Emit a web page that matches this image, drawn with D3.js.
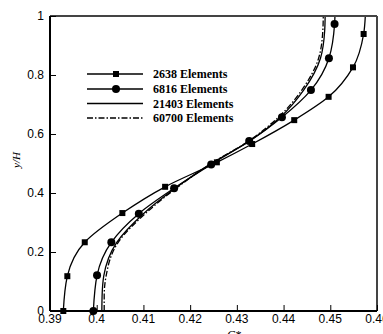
<!DOCTYPE html>
<html>
<head>
<meta charset="utf-8">
<script src="https://cdn.jsdelivr.net/npm/d3@7"></script>
<style>
  body { margin: 0; background: #fff; }
  svg { display: block; }
</style>
</head>
<body>
<div id="chart"></div>
<script>
// C* values against y/H
const yLevels2638 = [0, 0.118, 0.233, 0.332, 0.421, 0.504, 0.566, 0.647, 0.726, 0.826, 0.939, 1];
const cStar2638 = [0.39285, 0.39371, 0.39744, 0.40549, 0.41464, 0.42572, 0.43328, 0.44228, 0.44964, 0.45486, 0.45714, 0.4575];

const yLevels6816 = [0, 0.121, 0.233, 0.330, 0.416, 0.497, 0.576, 0.657, 0.749, 0.857, 0.973, 1];
const cStar6816 = [0.39928, 0.40007, 0.40313, 0.40901, 0.41657, 0.4245, 0.43264, 0.43965, 0.44586, 0.44971, 0.45092, 0.451];

const yLevelsFine = [0, 0.05, 0.118, 0.233, 0.33, 0.416, 0.5, 0.576, 0.657, 0.749, 0.857, 0.95, 1];
const cStar21403 = [0.4011, 0.40115, 0.4015, 0.4043, 0.4100, 0.4168, 0.4245, 0.4328, 0.4393, 0.4443, 0.4479, 0.4488, 0.4489];
const cStar60700 = [0.4016, 0.4016, 0.4020, 0.4046, 0.4104, 0.4170, 0.4245, 0.4325, 0.4389, 0.4439, 0.4475, 0.4484, 0.4485];

const xTicks = [0.39, 0.40, 0.41, 0.42, 0.43, 0.44, 0.45, 0.46];
const yTicks = [0, 0.2, 0.4, 0.6, 0.8, 1];

const series = [
    { name: "2638 Elements", ys: yLevels2638, xs: cStar2638, marker: "square", dash: null },
    { name: "6816 Elements", ys: yLevels6816, xs: cStar6816, marker: "circle", dash: null },
    { name: "21403 Elements", ys: yLevelsFine, xs: cStar21403, marker: null, dash: null },
    { name: "60700 Elements", ys: yLevelsFine, xs: cStar60700, marker: null, dash: "6,2,1.5,2" }
];

const serif = "'Liberation Serif', 'DejaVu Serif', serif";
const width = 383, height = 334;
const margin = { top: 16, right: 6, bottom: 23, left: 50 };
const plotWidth = width - margin.left - margin.right;
const plotHeight = height - margin.top - margin.bottom;

const svg = d3.select("#chart").append("svg")
    .attr("width", width).attr("height", height)
    .attr("font-family", serif);
const g = svg.append("g").attr("transform", `translate(${margin.left},${margin.top})`);

const x = d3.scaleLinear().domain([0.39, 0.46]).range([0, plotWidth]);
const y = d3.scaleLinear().domain([0, 1]).range([plotHeight, 0]);

// Curves
const line = d3.line()
    .x(d => x(d[0]))
    .y(d => y(d[1]))
    .curve(d3.curveMonotoneY);

series.forEach(s => {
    const pts = s.xs.map((v, i) => [v, s.ys[i]]);
    g.append("path")
        .datum(pts)
        .attr("fill", "none")
        .attr("stroke", "#000")
        .attr("stroke-width", 1.3)
        .attr("stroke-dasharray", s.dash)
        .attr("d", line);

    // markers on every point except the top end
    const marked = pts.filter(p => p[1] < 1);
    if (s.marker === "square") {
        g.selectAll(null).data(marked).join("rect")
            .attr("x", d => x(d[0]) - 3)
            .attr("y", d => y(d[1]) - 3)
            .attr("width", 6).attr("height", 6)
            .attr("fill", "#000");
    } else if (s.marker === "circle") {
        g.selectAll(null).data(marked).join("circle")
            .attr("cx", d => x(d[0]))
            .attr("cy", d => y(d[1]))
            .attr("r", 4)
            .attr("fill", "#000");
    }
});

// Frame: top and right in grey, left and bottom in black
g.append("line").attr("x1", 0).attr("x2", plotWidth).attr("y1", 0).attr("y2", 0)
    .attr("stroke", "#444").attr("stroke-width", 2);
g.append("line").attr("x1", plotWidth).attr("x2", plotWidth).attr("y1", 0).attr("y2", plotHeight)
    .attr("stroke", "#444").attr("stroke-width", 2);

// X axis, ticks inward
const xAxis = g.append("g").attr("transform", `translate(0,${plotHeight})`);
xAxis.call(d3.axisTop(x).tickValues(d3.range(0.39, 0.4601, 0.002)).tickSize(3).tickFormat(""))
    .call(a => a.select(".domain").remove());
xAxis.call(d3.axisTop(x).tickValues(xTicks).tickSize(6).tickFormat(""))
    .call(a => a.selectAll(".domain").remove());
xAxis.append("line").attr("x1", 0).attr("x2", plotWidth).attr("stroke", "#000").attr("stroke-width", 2);
xAxis.selectAll(".tick line").attr("stroke", "#000").attr("stroke-width", 1);
xAxis.selectAll(".xlabel").data(xTicks).join("text")
    .attr("class", "xlabel")
    .attr("x", d => x(d))
    .attr("y", 12)
    .attr("text-anchor", "middle")
    .attr("font-size", 12)
    .attr("fill", "#000")
    .text(d => d3.format("~g")(d));

// Y axis, ticks inward
const yAxis = g.append("g");
yAxis.call(d3.axisRight(y).tickValues(d3.range(0, 1.001, 0.05)).tickSize(3).tickFormat(""))
    .call(a => a.select(".domain").remove());
yAxis.call(d3.axisRight(y).tickValues(yTicks).tickSize(6).tickFormat(""))
    .call(a => a.selectAll(".domain").remove());
yAxis.append("line").attr("y1", 0).attr("y2", plotHeight).attr("stroke", "#000").attr("stroke-width", 2);
yAxis.selectAll(".tick line").attr("stroke", "#000").attr("stroke-width", 1);
yAxis.selectAll(".ylabel").data(yTicks).join("text")
    .attr("class", "ylabel")
    .attr("x", -6)
    .attr("y", d => y(d))
    .attr("dy", "0.3em")
    .attr("text-anchor", "end")
    .attr("font-size", 12)
    .attr("fill", "#000")
    .text(d => d3.format("~g")(d));

// Axis titles
svg.append("text")
    .attr("x", 234)
    .attr("y", 339)
    .attr("text-anchor", "middle")
    .attr("font-size", 12)
    .attr("font-style", "italic")
    .text("C*");

svg.append("text")
    .attr("transform", `translate(20,160) rotate(-90)`)
    .attr("text-anchor", "middle")
    .attr("font-size", 11)
    .attr("font-style", "italic")
    .text("y/H");

// Legend
const legend = svg.append("g");
const legendY = [74, 89, 103.5, 118];
series.forEach((s, i) => {
    const row = legend.append("g").attr("transform", `translate(0,${legendY[i]})`);
    row.append("line")
        .attr("x1", 87).attr("x2", 143)
        .attr("stroke", "#000").attr("stroke-width", 1.3)
        .attr("stroke-dasharray", s.dash);
    if (s.marker === "square") {
        row.append("rect").attr("x", 113).attr("y", -3).attr("width", 6).attr("height", 6).attr("fill", "#000");
    } else if (s.marker === "circle") {
        row.append("circle").attr("cx", 116).attr("cy", 0).attr("r", 4).attr("fill", "#000");
    }
    row.append("text")
        .attr("x", 153)
        .attr("dy", "0.35em")
        .attr("font-size", 12)
        .attr("font-weight", "bold")
        .text(s.name);
});
</script>
</body>
</html>
